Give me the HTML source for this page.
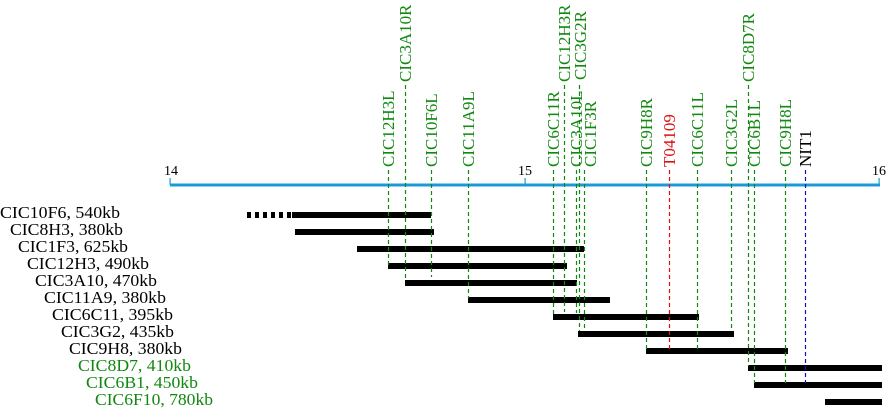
<!DOCTYPE html>
<html><head><meta charset="utf-8"><style>
html,body{margin:0;padding:0;background:#fff;}
svg{display:block;font-family:"Liberation Serif",serif;}
</style></head><body>
<svg width="887" height="411" viewBox="0 0 887 411" xmlns="http://www.w3.org/2000/svg">
<rect x="170" y="183.5" width="710" height="3" fill="#1a9ad8"/>
<rect x="169.5" y="178" width="1.2" height="7" fill="#1a9ad8"/>
<rect x="524.5" y="178" width="1.2" height="7" fill="#1a9ad8"/>
<rect x="878.5" y="178" width="1.2" height="7" fill="#1a9ad8"/>
<g font-size="14" fill="#000" text-anchor="middle">
<text x="171" y="175">14</text><text x="525" y="175">15</text><text x="879" y="175">16</text>
</g>
<g fill="#000">
<rect x="292" y="212" width="139" height="6"/>
<rect x="295" y="229" width="139" height="6"/>
<rect x="357" y="246" width="227" height="6"/>
<rect x="388" y="263" width="179" height="6"/>
<rect x="405" y="280" width="172" height="6"/>
<rect x="468" y="297" width="142" height="6"/>
<rect x="553" y="314" width="146" height="6"/>
<rect x="578" y="331" width="156" height="6"/>
<rect x="646" y="348" width="142" height="6"/>
<rect x="748" y="365" width="134" height="6"/>
<rect x="754" y="382" width="128" height="6"/>
<rect x="825" y="399" width="57" height="6"/>
</g>
<line x1="247" y1="215" x2="292" y2="215" stroke="#000" stroke-width="6" stroke-dasharray="4 4"/>
<g stroke-width="1.2" stroke-dasharray="4 3" fill="none">
<line x1="388.5" y1="170" x2="388.5" y2="268" stroke="#118811"/>
<line x1="405.5" y1="85" x2="405.5" y2="281" stroke="#118811"/>
<line x1="431.5" y1="170" x2="431.5" y2="277" stroke="#118811"/>
<line x1="468.5" y1="170" x2="468.5" y2="298" stroke="#118811"/>
<line x1="553.5" y1="170" x2="553.5" y2="314" stroke="#118811"/>
<line x1="564.5" y1="85" x2="564.5" y2="312" stroke="#118811"/>
<line x1="576.5" y1="170" x2="576.5" y2="313" stroke="#118811"/>
<line x1="579.5" y1="85" x2="579.5" y2="331" stroke="#118811"/>
<line x1="584.5" y1="170" x2="584.5" y2="330" stroke="#118811"/>
<line x1="646.5" y1="170" x2="646.5" y2="349" stroke="#118811"/>
<line x1="669.5" y1="170" x2="669.5" y2="349" stroke="#dd1111"/>
<line x1="697.5" y1="170" x2="697.5" y2="349" stroke="#118811"/>
<line x1="731.5" y1="170" x2="731.5" y2="331" stroke="#118811"/>
<line x1="748.5" y1="85" x2="748.5" y2="366" stroke="#118811"/>
<line x1="754.5" y1="170" x2="754.5" y2="383" stroke="#118811"/>
<line x1="785.5" y1="170" x2="785.5" y2="383" stroke="#118811"/>
<line x1="805.5" y1="170" x2="805.5" y2="383" stroke="#1111bb"/>
</g>
<g font-size="17" fill="#118811">
<text transform="translate(394,167) rotate(-90)">CIC12H3L</text>
<text transform="translate(411,82) rotate(-90)">CIC3A10R</text>
<text transform="translate(437,167) rotate(-90)">CIC10F6L</text>
<text transform="translate(474,167) rotate(-90)">CIC11A9L</text>
<text transform="translate(559,167) rotate(-90)">CIC6C11R</text>
<text transform="translate(570,82) rotate(-90)">CIC12H3R</text>
<text transform="translate(582,167) rotate(-90)">CIC3A10L</text>
<text transform="translate(586,80) rotate(-90)">CIC3G2R</text>
<text transform="translate(596,167) rotate(-90)">CIC1F3R</text>
<text transform="translate(652,167) rotate(-90)">CIC9H8R</text>
<text transform="translate(675,167) rotate(-90)" fill="#dd1111">T04109</text>
<text transform="translate(703,167) rotate(-90)">CIC6C11L</text>
<text transform="translate(737,167) rotate(-90)">CIC3G2L</text>
<text transform="translate(754,82) rotate(-90)">CIC8D7R</text>
<text transform="translate(760,167) rotate(-90)">CIC6B1L</text>
<text transform="translate(791,167) rotate(-90)">CIC9H8L</text>
<text transform="translate(811,167) rotate(-90)" fill="#000">NIT1</text>
</g>
<g font-size="17" fill="#000" lengthAdjust="spacingAndGlyphs">
<text x="0" y="218" textLength="120" lengthAdjust="spacingAndGlyphs">CIC10F6, 540kb</text>
<text x="10" y="235" textLength="113" lengthAdjust="spacingAndGlyphs">CIC8H3, 380kb</text>
<text x="18" y="252" textLength="110" lengthAdjust="spacingAndGlyphs">CIC1F3, 625kb</text>
<text x="27" y="269" textLength="122" lengthAdjust="spacingAndGlyphs">CIC12H3, 490kb</text>
<text x="35" y="286" textLength="122" lengthAdjust="spacingAndGlyphs">CIC3A10, 470kb</text>
<text x="44" y="303" textLength="122" lengthAdjust="spacingAndGlyphs">CIC11A9, 380kb</text>
<text x="52" y="320" textLength="121" lengthAdjust="spacingAndGlyphs">CIC6C11, 395kb</text>
<text x="61" y="337" textLength="113" lengthAdjust="spacingAndGlyphs">CIC3G2, 435kb</text>
<text x="69" y="354" textLength="113" lengthAdjust="spacingAndGlyphs">CIC9H8, 380kb</text>
<text x="78" y="371" fill="#118811" textLength="113" lengthAdjust="spacingAndGlyphs">CIC8D7, 410kb</text>
<text x="86" y="388" fill="#118811" textLength="112" lengthAdjust="spacingAndGlyphs">CIC6B1, 450kb</text>
<text x="95" y="405" fill="#118811" textLength="118" lengthAdjust="spacingAndGlyphs">CIC6F10, 780kb</text>
</g>
</svg>
</body></html>
